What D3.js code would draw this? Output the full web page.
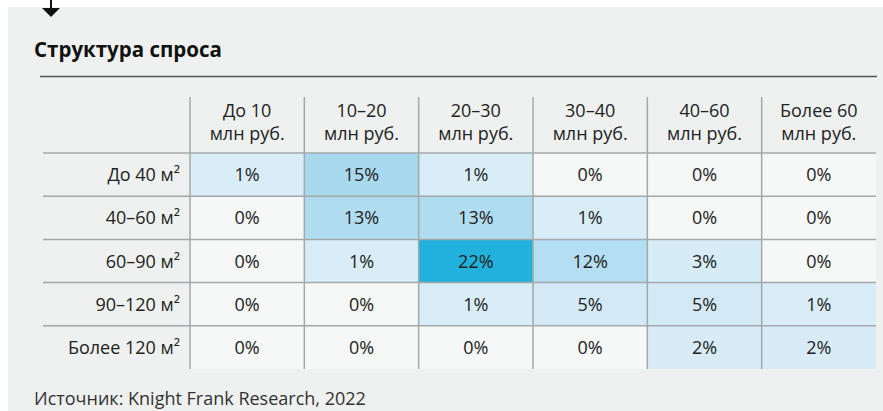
<!DOCTYPE html>
<html>
<head>
<meta charset="utf-8">
<script src="https://cdn.jsdelivr.net/npm/d3@7"></script>
<style>
  body { margin: 0; background: #fff; }
  text { font-family: "Open Sans", "Noto Sans", sans-serif; }
</style>
</head>
<body>
<script>
//data
var rowLabels = ["До 40 м²", "40–60 м²", "60–90 м²", "90–120 м²", "Более 120 м²"];
var colLine1 = ["До 10", "10–20", "20–30", "30–40", "40–60", "Более 60"];
var colLine2 = ["млн руб.", "млн руб.", "млн руб.", "млн руб.", "млн руб.", "млн руб."];
var shares = [
    [1, 15, 1, 0, 0, 0],
    [0, 13, 13, 1, 0, 0],
    [0, 1, 22, 12, 3, 0],
    [0, 0, 1, 5, 5, 1],
    [0, 0, 0, 0, 2, 2]
];

window.onload = function(){
    var w = 883, h = 411;
    var fs = "18px"; //body text size

    var svg = d3.select("body")
        .append("svg")
        .attr("width", w)
        .attr("height", h);

    //grey panel
    svg.append("rect")
        .attr("x", 8).attr("y", 7)
        .attr("width", w - 8).attr("height", h - 7)
        .style("fill", "#eef1ef");

    //arrow marker at top
    svg.append("line")
        .attr("x1", 51).attr("x2", 51).attr("y1", 0).attr("y2", 8)
        .style("stroke", "#111").style("stroke-width", 2);
    svg.append("path")
        .attr("d", "M42,8 L60,8 L51,17 Z")
        .style("fill", "#111");

    //title
    svg.append("text")
        .attr("x", 34).attr("y", 57)
        .style("font-size", "20.5px")
        .style("font-weight", "bold")
        .style("fill", "#111")
        .text("Структура спроса");

    svg.append("line")
        .attr("x1", 40).attr("x2", 877).attr("y1", 76.5).attr("y2", 76.5)
        .style("stroke", "#555").style("stroke-width", 1.5);

    //scales
    var x = d3.scaleBand()
        .domain(d3.range(colLine1.length))
        .range([190, 876]);

    var y = d3.scaleBand()
        .domain(d3.range(rowLabels.length))
        .range([153, 369]);

    var color = d3.scaleLinear()
        .domain([0, 1, 5, 13, 15, 22])
        .range(["#f6f7f7", "#d9edf8", "#d3eaf6", "#b0dcf0", "#a9d9ee", "#22b1dc"])
        .clamp(true);

    var cells = [];
    shares.forEach(function(row, i){
        row.forEach(function(v, j){
            cells.push({r: i, c: j, v: v});
        });
    });

    //cells
    svg.selectAll(".cell")
        .data(cells)
        .enter()
        .append("rect")
        .attr("class", "cell")
        .attr("x", function(d){ return x(d.c); })
        .attr("y", function(d){ return y(d.r); })
        .attr("width", x.bandwidth())
        .attr("height", y.bandwidth())
        .style("fill", function(d){ return color(d.v); });

    svg.selectAll(".cellLabel")
        .data(cells)
        .enter()
        .append("text")
        .attr("class", "cellLabel")
        .attr("text-anchor", "middle")
        .attr("x", function(d){ return x(d.c) + x.bandwidth() / 2; })
        .attr("y", function(d){ return y(d.r) + y.bandwidth() / 2 + 6.5; })
        .style("font-size", fs)
        .style("fill", "#222")
        .text(function(d){ return d.v + "%"; });

    //grid lines
    var gridColor = "#a3a8aa";
    svg.selectAll(".hline")
        .data(d3.range(rowLabels.length))
        .enter()
        .append("line")
        .attr("class", "hline")
        .attr("x1", 43).attr("x2", 876)
        .attr("y1", function(d){ return y(d); })
        .attr("y2", function(d){ return y(d); })
        .style("stroke", gridColor).style("stroke-width", 1.5);

    svg.selectAll(".vline")
        .data(d3.range(colLine1.length))
        .enter()
        .append("line")
        .attr("class", "vline")
        .attr("x1", function(d){ return x(d); })
        .attr("x2", function(d){ return x(d); })
        .attr("y1", 97).attr("y2", 369)
        .style("stroke", gridColor).style("stroke-width", 1.5);

    //column headers
    var head = svg.selectAll(".colHead")
        .data(colLine1)
        .enter()
        .append("text")
        .attr("class", "colHead")
        .attr("text-anchor", "middle")
        .style("font-size", fs)
        .style("fill", "#222");

    head.append("tspan")
        .attr("x", function(d, i){ return x(i) + x.bandwidth() / 2; })
        .attr("y", 117)
        .text(function(d){ return d; });

    head.append("tspan")
        .attr("x", function(d, i){ return x(i) + x.bandwidth() / 2; })
        .attr("y", 140)
        .text(function(d, i){ return colLine2[i]; });

    //row labels
    svg.selectAll(".rowLabel")
        .data(rowLabels)
        .enter()
        .append("text")
        .attr("class", "rowLabel")
        .attr("text-anchor", "end")
        .attr("x", 180)
        .attr("y", function(d, i){ return y(i) + y.bandwidth() / 2 + 6.5; })
        .style("font-size", fs)
        .style("fill", "#222")
        .text(function(d){ return d; });

    //source
    svg.append("text")
        .attr("x", 34).attr("y", 405)
        .style("font-size", fs)
        .style("fill", "#333")
        .text("Источник: Knight Frank Research, 2022");
};
</script>
</body>
</html>
